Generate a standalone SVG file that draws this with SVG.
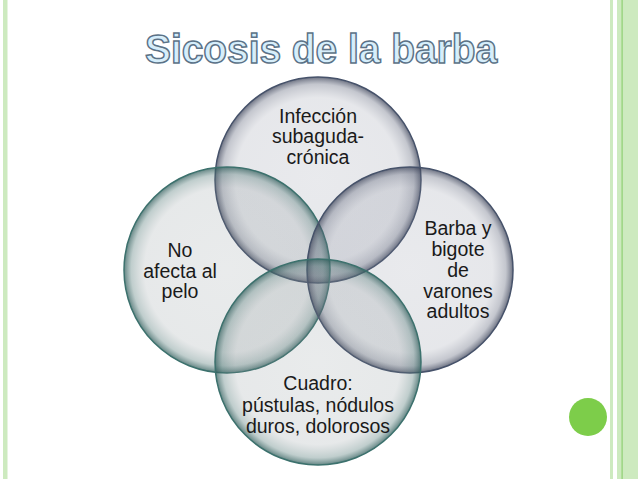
<svg xmlns="http://www.w3.org/2000/svg" width="638" height="479" viewBox="0 0 638 479">
<defs>
<style>
.lbl{font-family:"Liberation Sans",Arial,sans-serif;font-size:19.5px;fill:#1a1a1a;text-anchor:middle}
.title{font-family:"Liberation Sans",Arial,sans-serif;font-weight:bold;font-size:40px;fill:#d6eefb;stroke:#5b7287;stroke-width:1.5px;text-anchor:middle}
.cg{fill:url(#gGrey);stroke:#46526a;stroke-width:1.5}
.ct{fill:url(#gTeal);stroke:#3c716d;stroke-width:1.5}
</style>
<radialGradient id="gGrey" cx="50%" cy="50%" r="50%">
<stop offset="0" stop-color="#7c8294" stop-opacity="0.17"/>
<stop offset="0.8" stop-color="#7c8294" stop-opacity="0.19"/>
<stop offset="0.93" stop-color="#5b6277" stop-opacity="0.36"/>
<stop offset="1" stop-color="#3c4358" stop-opacity="0.75"/>
</radialGradient>
<radialGradient id="gTeal" cx="50%" cy="50%" r="50%">
<stop offset="0" stop-color="#7e8a8e" stop-opacity="0.17"/>
<stop offset="0.8" stop-color="#7e8a8e" stop-opacity="0.19"/>
<stop offset="0.93" stop-color="#4f7674" stop-opacity="0.36"/>
<stop offset="1" stop-color="#2f5c5a" stop-opacity="0.75"/>
</radialGradient>
</defs>
<rect width="638" height="479" fill="#ffffff"/>
<g id="border">
<rect x="3" y="0" width="4.5" height="479" fill="#cdeabf"/>
<rect x="610" y="0" width="3" height="479" fill="#cdeabf"/>
<rect x="617" y="0" width="21" height="479" fill="#cdeabf"/>
<rect x="621.5" y="0" width="1.2" height="479" fill="#8fcf72"/>
</g>
<text class="title" x="321" y="63" textLength="352" lengthAdjust="spacingAndGlyphs">Sicosis de la barba</text>
<g id="node-top">
<circle class="cg" cx="318" cy="180" r="103"/>
<text class="lbl" x="318" y="123">Infección</text>
<text class="lbl" x="318" y="143">subaguda-</text>
<text class="lbl" x="318" y="164">crónica</text>
</g>
<g id="node-left">
<circle class="ct" cx="227" cy="270" r="103"/>
<text class="lbl" x="180" y="257">No</text>
<text class="lbl" x="180" y="278">afecta al</text>
<text class="lbl" x="180" y="298">pelo</text>
</g>
<g id="node-right">
<circle class="cg" cx="410" cy="270" r="103"/>
<text class="lbl" x="458" y="235">Barba y</text>
<text class="lbl" x="458" y="256">bigote</text>
<text class="lbl" x="458" y="277">de</text>
<text class="lbl" x="458" y="298">varones</text>
<text class="lbl" x="458" y="318">adultos</text>
</g>
<g id="node-bottom">
<circle class="ct" cx="318" cy="362" r="103"/>
<text class="lbl" x="318" y="390">Cuadro:</text>
<text class="lbl" x="318" y="412">pústulas, nódulos</text>
<text class="lbl" x="318" y="433">duros, dolorosos</text>
</g>
<g id="connectors"/>
<circle id="green-dot" cx="588" cy="417" r="19" fill="#7dcd4a"/>
</svg>
